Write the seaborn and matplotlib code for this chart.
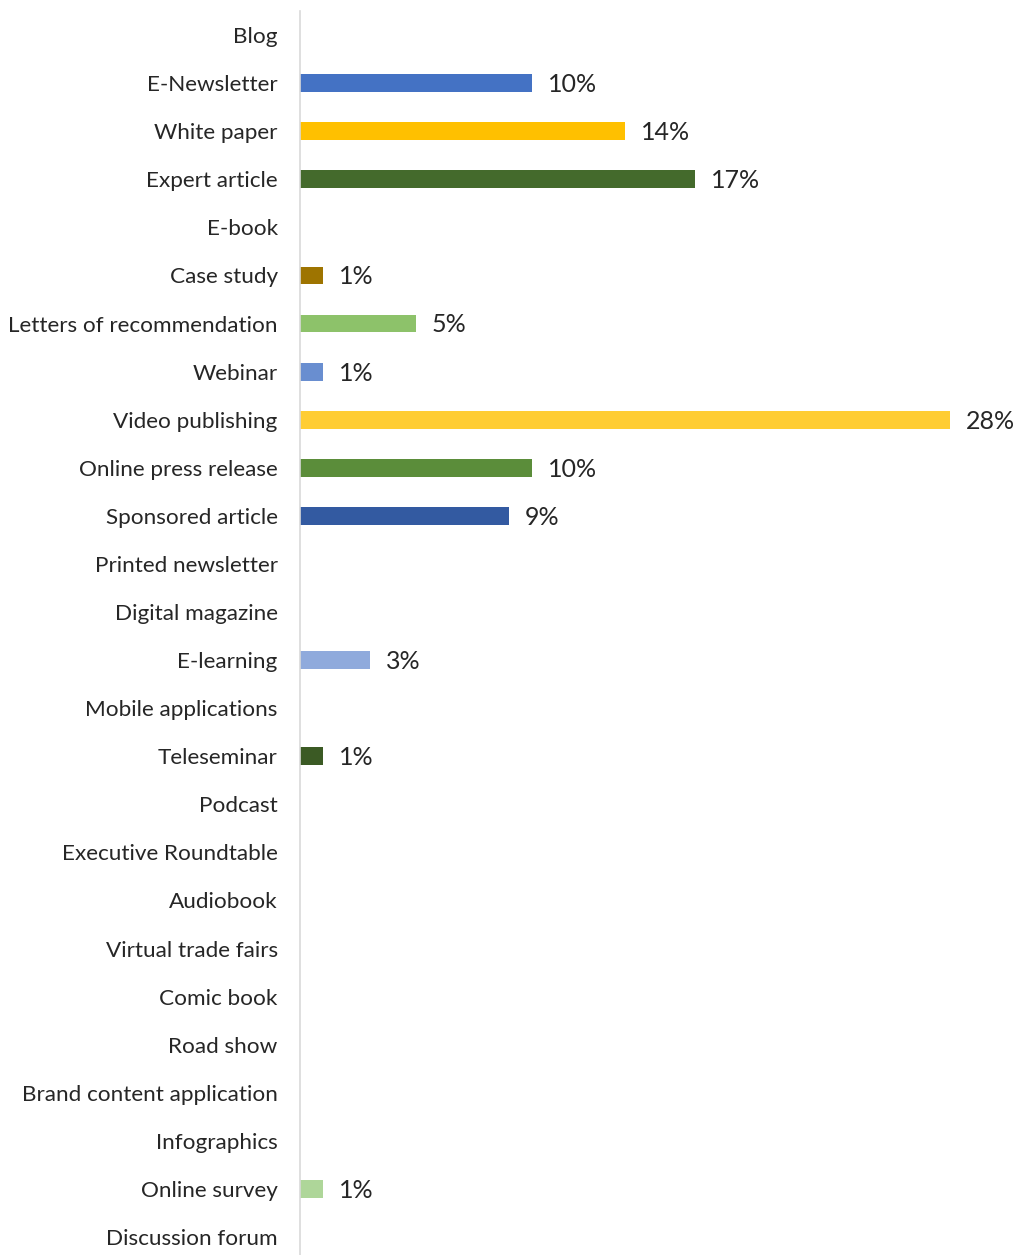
import matplotlib
matplotlib.use("Agg")
import matplotlib.pyplot as plt
import seaborn as sns
import pandas as pd

categories = ["Blog", "E-Newsletter", "White paper", "Expert article", "E-book", "Case study",
              "Letters of recommendation", "Webinar", "Video publishing", "Online press release",
              "Sponsored article", "Printed newsletter", "Digital magazine", "E-learning",
              "Mobile applications", "Teleseminar", "Podcast", "Executive Roundtable", "Audiobook",
              "Virtual trade fairs", "Comic book", "Road show", "Brand content application",
              "Infographics", "Online survey", "Discussion forum"]
values = [0, 10, 14, 17, 0, 1, 5, 1, 28, 10, 9, 0, 0, 3, 0, 1, 0, 0, 0, 0, 0, 0, 0, 0, 1, 0]
colors = ["#4472C4", "#4472C4", "#FFC000", "#446A2C", "#9E7400", "#9E7400",
          "#8DC26A", "#698ED0", "#FFCD33", "#5B8D3A", "#335AA1", "#8FAADC", "#8FAADC",
          "#8FAADC", "#3B5A24", "#3B5A24", "#3B5A24", "#3B5A24", "#3B5A24", "#3B5A24",
          "#3B5A24", "#3B5A24", "#3B5A24", "#AED699", "#AED699", "#AED699"]

df = pd.DataFrame({"category": categories, "value": values})
palette = dict(zip(categories, colors))

sns.set_theme(style="white")
plt.rcParams["font.family"] = ["Lato", "DejaVu Sans"]

fig = plt.figure(figsize=(10.21, 12.55), dpi=100)
ax = fig.add_axes([0.2938, -0.0048, 0.6856, 0.996])

sns.barplot(data=df, x="value", y="category", hue="category", palette=palette,
            order=categories, hue_order=categories, legend=False, width=0.37,
            orient="h", ax=ax, saturation=1, linewidth=0)

ax.set_xlim(0, 28 * 700 / 650)
ax.set_ylim(len(categories) - 0.5, -0.5)
ax.set_xlabel("")
ax.set_ylabel("")
ax.set_xticks([])
for s in ["top", "right", "bottom"]:
    ax.spines[s].set_visible(False)
ax.spines["left"].set_color("#D9D9D9")
ax.spines["left"].set_linewidth(1.2)
ax.tick_params(axis="y", length=0, pad=16, labelsize=16.2, labelcolor="#262626")

for i, v in enumerate(values):
    if v > 0:
        ax.annotate(f"{v}%", xy=(v, i), xytext=(11.5, 0.4), textcoords="offset points",
                    ha="left", va="center_baseline", fontsize=18, color="#262626")

fig.savefig("out.png", dpi=100)
